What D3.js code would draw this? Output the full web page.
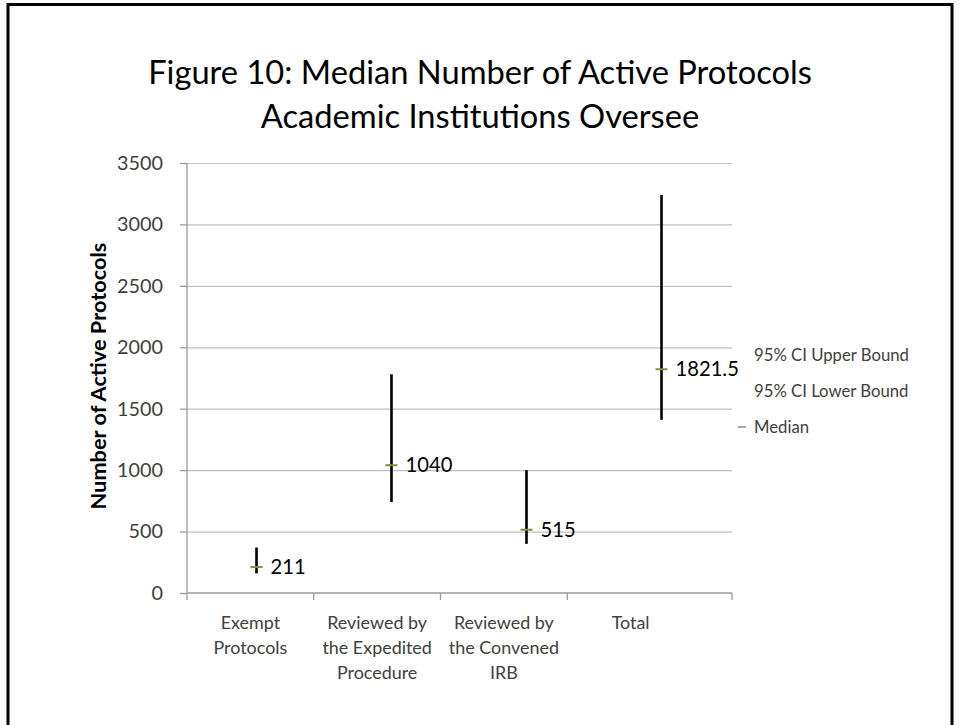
<!DOCTYPE html>
<html>
<head>
<meta charset="utf-8">
<script src="https://cdn.jsdelivr.net/npm/d3@7"></script>
<style>
  html, body { margin: 0; padding: 0; background: #fff; }
  svg { display: block; }
  text { font-family: Lato, "Open Sans", sans-serif; }
</style>
</head>
<body>
<svg id="chart" width="961" height="725"></svg>
<script>
// ---- data ----
const categories = ["Exempt Protocols", "Reviewed by the Expedited Procedure", "Reviewed by the Convened IRB", "Total"];
const categoryLines = [["Exempt", "Protocols"], ["Reviewed by", "the Expedited", "Procedure"], ["Reviewed by", "the Convened", "IRB"], ["Total"]];
const upperBound = [370, 1780, 1000, 3240];
const lowerBound = [160, 740, 400, 1410];
const median = [211, 1040, 515, 1821.5];
const medianLabels = ["211", "1040", "515", "1821.5"];
const yTicks = [0, 500, 1000, 1500, 2000, 2500, 3000, 3500];
const legendItems = ["95% CI Upper Bound", "95% CI Lower Bound", "Median"];
const titleLines = ["Figure 10: Median Number of Active Protocols", "Academic Institutions Oversee"];
const yTitle = "Number of Active Protocols";

// ---- layout ----
const svg = d3.select("#chart");
const plot = { left: 187, right: 732, top: 163, bottom: 593 };

// frame
svg.append("path")
  .attr("d", `M8,730 L8,4.5 L952,4.5 L952,730`)
  .attr("fill", "none").attr("stroke", "#000").attr("stroke-width", 3);

function fit(sel, target) {
  const w = sel.node().getComputedTextLength();
  const fs = parseFloat(sel.attr("font-size"));
  return fs * target / w;
}

// title
const t1 = svg.append("text").attr("x", 480).attr("y", 84).attr("text-anchor", "middle")
  .attr("font-size", 28).attr("fill", "#000").text(titleLines[0]);
const titleSize = fit(t1, 664);
t1.attr("font-size", titleSize);
svg.append("text").attr("x", 480).attr("y", 128).attr("text-anchor", "middle")
  .attr("font-size", titleSize).attr("fill", "#000").text(titleLines[1]);

// scales
const y = d3.scaleLinear().domain([0, 3500]).range([plot.bottom, plot.top]);
const xLabel = d3.scaleBand().domain(categories).range([plot.left, 694]).padding(0);
const xMark = d3.scalePoint().domain(categories).range([189, 729]).padding(0.5);

// gridlines
svg.append("g").attr("transform", `translate(${plot.left},0)`)
  .call(d3.axisLeft(y).tickValues(yTicks.filter(v => v > 0)).tickSize(-(plot.right - plot.left)).tickFormat(""))
  .call(g => g.select(".domain").remove())
  .call(g => g.selectAll("line").attr("stroke", "#c0c0c0").attr("stroke-width", 1.2));

// y axis
const yAxisG = svg.append("g").attr("transform", `translate(${plot.left},0)`)
  .call(d3.axisLeft(y).tickValues(yTicks).tickSize(7).tickPadding(17).tickFormat(d3.format("d")));
yAxisG.select(".domain").attr("stroke", "#9a9a9a").attr("stroke-width", 1.3).attr("d", `M0,${plot.bottom}V${plot.top}`);
yAxisG.selectAll("line").attr("stroke", "#9a9a9a").attr("stroke-width", 1.3);
yAxisG.selectAll("text").attr("fill", "#404040").attr("font-family", "Lato, sans-serif").attr("font-size", 19);
const tickSize = fit(yAxisG.selectAll("text").filter(d => d === 3500), 46);
yAxisG.selectAll("text").attr("font-size", tickSize);

// x axis line + ticks
svg.append("line").attr("x1", plot.left).attr("x2", plot.right).attr("y1", plot.bottom).attr("y2", plot.bottom)
  .attr("stroke", "#9a9a9a").attr("stroke-width", 1.3);
const tickXs = categories.map(c => xLabel(c)).concat([plot.right]);
svg.append("g").selectAll("line").data(tickXs).join("line")
  .attr("x1", d => d).attr("x2", d => d).attr("y1", plot.bottom).attr("y2", plot.bottom + 7)
  .attr("stroke", "#9a9a9a").attr("stroke-width", 1.3);

// category labels
const catG = svg.append("g");
categories.forEach((c, i) => {
  const tx = catG.append("text").attr("x", xLabel(c) + xLabel.bandwidth() / 2).attr("y", 629)
    .attr("text-anchor", "middle").attr("fill", "#404040").attr("font-size", 17);
  categoryLines[i].forEach((ln, j) => {
    tx.append("tspan").attr("x", xLabel(c) + xLabel.bandwidth() / 2).attr("dy", j === 0 ? 0 : 25).text(ln);
  });
});
// fit category font by "Reviewed by"
{
  const probe = svg.append("text").attr("font-size", 17).text("Reviewed by");
  const cs = fit(probe, 100);
  probe.remove();
  catG.selectAll("text").attr("font-size", cs);
}

// y title
const yt = svg.append("text").attr("transform", `translate(106,376) rotate(-90)`)
  .attr("text-anchor", "middle").attr("font-weight", "bold").attr("font-size", 16).attr("fill", "#000").text(yTitle);
yt.attr("font-size", fit(yt, 267));

// CI lines
svg.append("g").selectAll("line").data(categories).join("line")
  .attr("x1", d => xMark(d)).attr("x2", d => xMark(d))
  .attr("y1", (d, i) => y(upperBound[i])).attr("y2", (d, i) => y(lowerBound[i]))
  .attr("stroke", "#000").attr("stroke-width", 2.6);

// median markers
svg.append("g").selectAll("line").data(categories).join("line")
  .attr("x1", d => xMark(d) - 6).attr("x2", d => xMark(d) + 6)
  .attr("y1", (d, i) => y(median[i])).attr("y2", (d, i) => y(median[i]))
  .attr("stroke", "#77933C").attr("stroke-width", 2);

// data labels
svg.append("g").selectAll("text").data(categories).join("text")
  .attr("x", d => xMark(d) + 14)
  .attr("y", (d, i) => y(median[i]))
  .attr("dy", "0.35em")
  .attr("font-size", tickSize * 1.02).attr("fill", "#000")
  .text((d, i) => medianLabels[i]);

// legend
const legG = svg.append("g");
const legY = [355, 391, 427];
legendItems.forEach((name, i) => {
  legG.append("text").attr("x", 754).attr("y", legY[i]).attr("dy", "0.35em")
    .attr("font-size", 14).attr("fill", "#404040").text(name);
});
{
  const ls = fit(legG.select("text"), 155);
  legG.selectAll("text").attr("font-size", ls);
}
legG.append("line").attr("x1", 738).attr("x2", 746).attr("y1", legY[2]).attr("y2", legY[2])
  .attr("stroke", "#8c8c8c").attr("stroke-width", 1.5);
</script>
</body>
</html>
